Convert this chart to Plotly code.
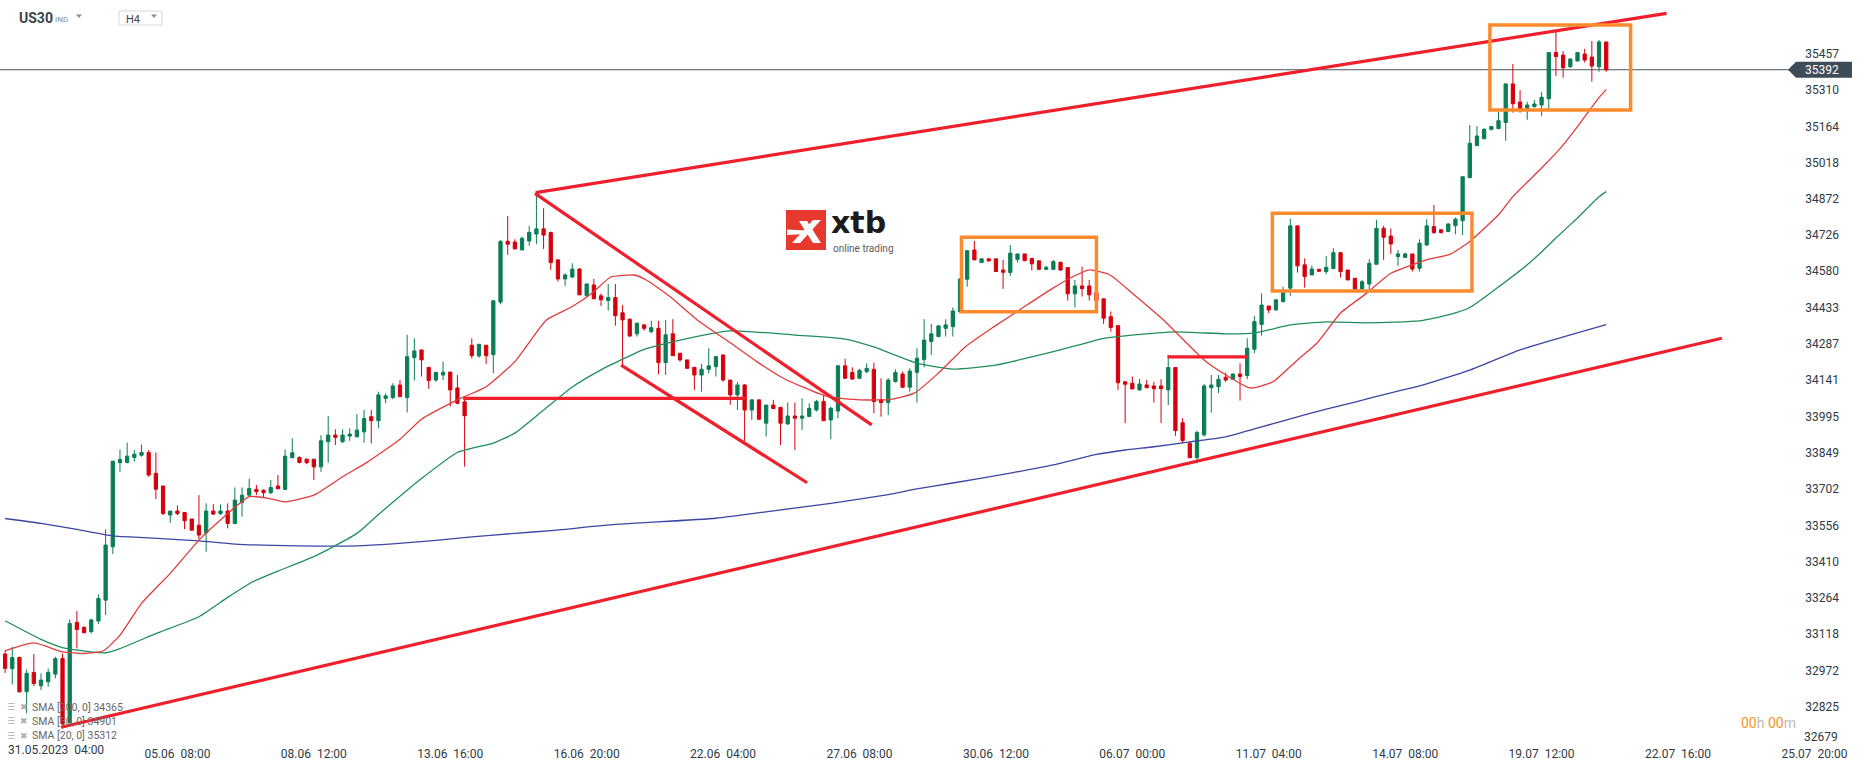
import plotly.graph_objects as go

# ---------------- data ----------------
# H4 bars; bar index 0 = 31.05.2023 04:00
first_bar = -5
opens = [33038, 32979, 33024, 32886, 32964, 32910, 32926, 32957, 33020, 32761,
         33165, 33145, 33128, 33171, 33255, 33470, 33809, 33810, 33830, 33839,
         33850, 33766, 33715, 33598, 33614, 33608, 33582, 33557, 33526, 33614,
         33604, 33614, 33564, 33648, 33678, 33701, 33698, 33688, 33715, 33701,
         33829, 33830, 33823, 33823, 33792, 33893, 33920, 33893, 33916, 33913,
         33933, 33994, 33978, 34068, 34071, 34122, 34071, 34232, 34263, 34193,
         34142, 34162, 34174, 34110, 34054, 34282, 34239, 34282, 34244, 34456,
         34701, 34698, 34666, 34702, 34730, 34751, 34736, 34626, 34549, 34557,
         34589, 34482, 34525, 34481, 34462, 34474, 34413, 34387, 34328, 34364,
         34337, 34350, 34212, 34328, 34250, 34223, 34193, 34162, 34185, 34196,
         34243, 34142, 34082, 34122, 34021, 34062, 33968, 34041, 34032, 33965,
         33997, 33988, 33995, 34021, 34055, 33981, 34017, 34199, 34172, 34149,
         34176, 34185, 34062, 34051, 34136, 34166, 34113, 34173, 34225, 34297,
         34317, 34350, 34357, 34418, 34548, 34666, 34615, 34630, 34630, 34585,
         34575, 34628, 34650, 34632, 34622, 34588, 34588, 34616, 34595, 34489,
         34521, 34521, 34494, 34469, 34397, 34361, 34135, 34129, 34102, 34122,
         34118, 34118, 34102, 34192, 33970, 33887, 33829, 33921, 34111, 34115,
         34153, 34145, 34166, 34160, 34266, 34366, 34440, 34424, 34458, 34512,
         34763, 34606, 34565, 34588, 34579, 34591, 34655, 34585, 34552, 34509,
         34529, 34608, 34753, 34722, 34639, 34636, 34650, 34592, 34686, 34760,
         34747, 34740, 34764, 34784, 34957, 35086, 35114, 35152, 35155, 35179,
         35335, 35262, 35235, 35243, 35250, 35275, 35461, 35451, 35404, 35427,
         35455, 35443, 35404, 35504]
highs = [33051, 33067, 33027, 32976, 33038, 32960, 32980, 33027, 33040, 33177,
         33211, 33150, 33181, 33278, 33541, 33815, 33862, 33890, 33860, 33882,
         33860, 33850, 33715, 33614, 33637, 33608, 33582, 33678, 33645, 33642,
         33641, 33645, 33709, 33709, 33745, 33719, 33701, 33739, 33759, 33862,
         33907, 33835, 33826, 33823, 33920, 33997, 33943, 33943, 33947, 34005,
         34021, 34021, 34095, 34088, 34129, 34142, 34324, 34310, 34263, 34193,
         34176, 34216, 34174, 34162, 34066, 34310, 34286, 34282, 34465, 34706,
         34803, 34709, 34720, 34763, 34888, 34834, 34740, 34626, 34572, 34612,
         34592, 34529, 34550, 34491, 34529, 34529, 34444, 34390, 34373, 34368,
         34381, 34380, 34384, 34387, 34250, 34223, 34193, 34207, 34270, 34240,
         34243, 34142, 34135, 34126, 34062, 34062, 34041, 34062, 34032, 34051,
         34051, 34068, 34048, 34062, 34082, 34035, 34203, 34227, 34193, 34187,
         34209, 34212, 34149, 34149, 34185, 34176, 34189, 34270, 34387, 34368,
         34364, 34387, 34434, 34552, 34666, 34702, 34630, 34632, 34630, 34626,
         34686, 34650, 34650, 34632, 34622, 34602, 34626, 34619, 34595, 34545,
         34599, 34545, 34494, 34469, 34418, 34361, 34135, 34156, 34146, 34142,
         34135, 34145, 34243, 34192, 33988, 33894, 33938, 34126, 34162, 34162,
         34172, 34169, 34209, 34310, 34400, 34491, 34440, 34467, 34518, 34791,
         34763, 34632, 34603, 34590, 34642, 34673, 34655, 34585, 34552, 34545,
         34628, 34787, 34763, 34753, 34666, 34655, 34650, 34709, 34790, 34847,
         34750, 34771, 34796, 34961, 35169, 35165, 35156, 35165, 35223, 35337,
         35415, 35310, 35263, 35270, 35302, 35461, 35549, 35467, 35438, 35461,
         35476, 35508, 35512, 35504]
lows = [32962, 32915, 32882, 32799, 32909, 32893, 32906, 32940, 32738, 32761,
        33061, 33121, 33121, 33159, 33195, 33441, 33772, 33806, 33813, 33833,
        33752, 33662, 33598, 33567, 33598, 33541, 33535, 33500, 33450, 33598,
        33598, 33544, 33561, 33591, 33672, 33678, 33669, 33682, 33701, 33701,
        33827, 33806, 33803, 33739, 33772, 33809, 33880, 33889, 33897, 33911,
        33889, 33886, 33947, 34048, 34064, 34075, 34011, 34140, 34156, 34106,
        34135, 34142, 34035, 34044, 33793, 34229, 34232, 34207, 34169, 34447,
        34646, 34670, 34666, 34683, 34690, 34670, 34585, 34538, 34521, 34552,
        34485, 34478, 34469, 34440, 34422, 34361, 34196, 34316, 34317, 34341,
        34330, 34165, 34162, 34240, 34216, 34187, 34102, 34095, 34169, 34156,
        34135, 34042, 34021, 33896, 33981, 33981, 33914, 34024, 33880, 33961,
        33860, 33941, 33995, 34015, 33978, 33903, 33988, 34146, 34142, 34146,
        34169, 34008, 33994, 34001, 34131, 34109, 34095, 34051, 34193, 34243,
        34314, 34317, 34317, 34410, 34518, 34626, 34615, 34618, 34579, 34509,
        34561, 34615, 34620, 34583, 34585, 34585, 34585, 34582, 34462, 34434,
        34478, 34462, 34455, 34368, 34337, 34102, 33968, 34106, 34099, 34109,
        34051, 33968, 34041, 33917, 33887, 33827, 33806, 33914, 34011, 34089,
        34135, 34142, 34059, 34145, 34250, 34321, 34411, 34424, 34454, 34481,
        34575, 34514, 34565, 34578, 34568, 34588, 34555, 34545, 34505, 34509,
        34505, 34608, 34626, 34650, 34602, 34636, 34579, 34579, 34682, 34730,
        34732, 34740, 34729, 34726, 34957, 35086, 35112, 35147, 35152, 35106,
        35219, 35219, 35190, 35241, 35206, 35233, 35367, 35360, 35400, 35427,
        35421, 35344, 35384, 35384]
closes = [32980, 33024, 32886, 32960, 32919, 32933, 32964, 33019, 32758, 33161,
          33137, 33124, 33175, 33262, 33477, 33815, 33822, 33835, 33843, 33850,
          33759, 33702, 33604, 33614, 33604, 33575, 33537, 33517, 33614, 33602,
          33614, 33564, 33658, 33678, 33705, 33692, 33688, 33709, 33704, 33835,
          33849, 33810, 33809, 33792, 33897, 33920, 33911, 33920, 33924, 33940,
          33987, 33978, 34082, 34078, 34118, 34075, 34236, 34259, 34223, 34140,
          34172, 34173, 34102, 34048, 33998, 34240, 34286, 34240, 34461, 34700,
          34689, 34670, 34713, 34737, 34751, 34726, 34615, 34549, 34565, 34589,
          34485, 34529, 34469, 34465, 34474, 34401, 34384, 34319, 34371, 34350,
          34353, 34212, 34324, 34240, 34223, 34189, 34162, 34185, 34199, 34236,
          34142, 34082, 34122, 34021, 34062, 33984, 34041, 34027, 33968, 33997,
          33988, 33997, 34028, 34055, 33978, 34028, 34199, 34149, 34146, 34180,
          34189, 34055, 34051, 34142, 34172, 34113, 34178, 34230, 34303, 34328,
          34360, 34364, 34420, 34549, 34663, 34626, 34630, 34622, 34579, 34576,
          34653, 34650, 34623, 34610, 34588, 34596, 34619, 34585, 34489, 34521,
          34510, 34485, 34462, 34391, 34354, 34131, 34125, 34106, 34126, 34111,
          34107, 34107, 34192, 33938, 33898, 33829, 33930, 34118, 34122, 34145,
          34142, 34166, 34156, 34270, 34377, 34444, 34424, 34465, 34494, 34763,
          34602, 34559, 34589, 34580, 34596, 34655, 34579, 34545, 34509, 34538,
          34612, 34753, 34717, 34690, 34650, 34650, 34589, 34693, 34763, 34736,
          34736, 34771, 34790, 34961, 35096, 35125, 35152, 35163, 35187, 35335,
          35255, 35235, 35250, 35254, 35281, 35461, 35445, 35400, 35435, 35461,
          35431, 35407, 35504, 35392]
bar_index = list(range(first_bar, first_bar + len(opens)))

tick_bars = [0, 19, 38, 57, 76, 95, 114, 133, 152, 171, 190, 209, 228, 247]
tick_dates = ["31.05.2023", "05.06", "08.06", "13.06", "16.06", "22.06", "27.06",
              "30.06", "06.07", "11.07", "14.07", "19.07", "22.07", "25.07"]
tick_times = ["04:00", "08:00", "12:00", "16:00", "20:00", "04:00", "08:00",
              "12:00", "00:00", "04:00", "08:00", "12:00", "16:00", "20:00"]

price_ticks = [35457, 35310, 35164, 35018, 34872, 34726, 34580, 34433, 34287, 34141,
               33995, 33849, 33702, 33556, 33410, 33264, 33118, 32972, 32825]
bottom_price_label = 32679
last_price = 35392

sma200_bars = [-5, 0, 5, 10, 15, 22, 27, 36, 44, 49, 55, 60, 66, 71, 80, 94, 102, 110,
               118, 122, 127, 135, 141, 147, 151, 155, 160, 165, 169, 174, 179, 183,
               188, 192, 199, 206, 218]
sma200_vals = [33584, 33564, 33540, 33514, 33506, 33494, 33481, 33474, 33474, 33482,
               33496, 33510, 33524, 33535, 33560, 33585, 33615, 33645, 33680, 33703,
               33727, 33767, 33800, 33842, 33860, 33873, 33893, 33913, 33945, 33985,
               34025, 34053, 34090, 34118, 34182, 34263, 34365]
sma50_bars = [-5, 0, 3, 7, 9, 11, 16, 22, 26, 29.5, 33, 38, 44, 47, 53, 58, 63, 66, 70,
              74, 78, 82, 84, 89, 96, 105, 112, 116, 122, 127, 133, 138, 144, 148, 151,
              158, 165, 169, 174, 179, 185, 192, 196, 199, 203, 207, 209, 211, 214,
              217, 218]
sma50_vals = [33172, 33097, 33064, 33047, 33043, 33060, 33120, 33188, 33266, 33329,
              33372, 33430, 33524, 33600, 33745, 33850, 33888, 33928, 34021, 34114,
              34183, 34239, 34265, 34303, 34340, 34323, 34307, 34275, 34210, 34186,
              34202, 34235, 34279, 34310, 34320, 34336, 34328, 34331, 34364, 34376,
              34372, 34380, 34404, 34434, 34517, 34606, 34658, 34714, 34795, 34880,
              34901]
sma20_bars = [-5, -1, 3, 6, 8.7, 11, 14, 18, 22, 25, 29, 31.7, 34, 38, 42, 45.4, 50,
              53, 58, 62, 66, 70.4, 74, 77, 79.3, 82.6, 84.3, 87.6, 91.4, 96.4, 99.7,
              103, 106.3, 109.6, 114, 118.4, 121.7, 125, 128.8, 132.7, 137.1, 141,
              143.7, 146, 148.9, 152, 156.8, 159.6, 162, 164.6, 168.4, 171.6, 175,
              177.7, 181, 184.6, 188, 193, 196.2, 199, 203.2, 205, 209.2, 211.6, 214,
              217.1, 218]
sma20_vals = [33051, 33083, 33047, 33040, 33051, 33114, 33242, 33363, 33497, 33578,
              33672, 33665, 33651, 33678, 33752, 33810, 33903, 33984, 34062, 34115,
              34216, 34384, 34438, 34498, 34556, 34565, 34545, 34478, 34384, 34284,
              34216, 34155, 34111, 34075, 34062, 34064, 34090, 34170, 34277, 34356,
              34440, 34513, 34558, 34586, 34565, 34491, 34371, 34290, 34223, 34170,
              34110, 34135, 34223, 34290, 34412, 34491, 34572, 34626, 34648, 34700,
              34814, 34881, 35002, 35075, 35163, 35284, 35312]

# drawn analysis (bar index, price)
trend_lines = [((68.9, 34897), (226.4, 35619)),
               ((2.8, 32743), (234.1, 34310)),
               ((68.8, 34894), (115.7, 33961)),
               ((80.8, 34202), (106.7, 33728)),
               ((58.8, 34068), (98.1, 34068)),
               ((156.9, 34235), (168.1, 34235))]
boxes = [((128.2, 34417), (147.0, 34717)),
         ((171.5, 34501), (199.3, 34814)),
         ((201.8, 35230), (221.4, 35572))]

sma_legend = [("SMA [200, 0]", 34365), ("SMA [50, 0]", 34901), ("SMA [20, 0]", 35312)]

# ---------------- layout geometry ----------------
W, H = 1866, 767
ML, MR, MT, MB = 0, 24, 0, 22
PW, PH = W - ML - MR, H - MT - MB
X_RANGE = [-5.71, 250.84]
Y_RANGE = [32671.4, 35673.0]

GREEN = "#0b7d55"
RED = "#d6000d"
TXT = "#2f3a44"
FONT = "Roboto"


def fx(p):
    return p / PW


def fy(p):
    return 1 - p / PH


def ppath(points):
    s = "M " + " L ".join(f"{fx(x):.5f},{fy(y):.5f}" for x, y in points) + " Z"
    return s


fig = go.Figure()

fig.add_trace(go.Scatter(x=sma200_bars, y=sma200_vals, mode="lines",
                         line=dict(color="#3b45a3", width=1.3, shape="spline", smoothing=0.5),
                         hoverinfo="skip", showlegend=False))
fig.add_trace(go.Scatter(x=sma50_bars, y=sma50_vals, mode="lines",
                         line=dict(color="#1f8d5e", width=1.3, shape="spline", smoothing=0.5),
                         hoverinfo="skip", showlegend=False))
fig.add_trace(go.Scatter(x=sma20_bars, y=sma20_vals, mode="lines",
                         line=dict(color="#e23b3b", width=1.3, shape="spline", smoothing=0.5),
                         hoverinfo="skip", showlegend=False))

fig.add_trace(go.Candlestick(
    x=bar_index, open=opens, high=highs, low=lows, close=closes,
    increasing=dict(line=dict(color=GREEN, width=1), fillcolor=GREEN),
    decreasing=dict(line=dict(color=RED, width=1), fillcolor=RED),
    showlegend=False, hoverinfo="skip"))

shapes = []
# last price line + tag
shapes.append(dict(type="line", xref="paper", yref="y", x0=0, x1=fx(1790),
                   y0=last_price, y1=last_price, line=dict(color="#4a5661", width=1),
                   layer="below"))
half = (Y_RANGE[1] - Y_RANGE[0]) / PH * 8
tag = (f"M {fx(1788):.5f},{last_price} L {fx(1796):.5f},{last_price + half} "
       f"L {fx(1852):.5f},{last_price + half} L {fx(1852):.5f},{last_price - half} "
       f"L {fx(1796):.5f},{last_price - half} Z")
shapes.append(dict(type="path", xref="paper", yref="y", path=tag,
                   fillcolor="#3e4c58", line=dict(width=0)))

for (x0, y0), (x1, y1) in trend_lines:
    shapes.append(dict(type="line", xref="x", yref="y", x0=x0, y0=y0, x1=x1, y1=y1,
                       line=dict(color="#ef1f2b", width=3.2)))
for (x0, y0), (x1, y1) in boxes:
    shapes.append(dict(type="rect", xref="x", yref="y", x0=x0, y0=y0, x1=x1, y1=y1,
                       line=dict(color="#fd8a2c", width=3.5), fillcolor="rgba(0,0,0,0)"))

# header widgets
shapes.append(dict(type="path", xref="paper", yref="paper",
                   path=ppath([(76, 14.5), (82, 14.5), (79, 18)]),
                   fillcolor="#8a8f94", line=dict(width=0)))
shapes.append(dict(type="rect", xref="paper", yref="paper", x0=fx(119), x1=fx(162),
                   y0=fy(25), y1=fy(11), line=dict(color="#d5d8db", width=1),
                   fillcolor="white"))
shapes.append(dict(type="path", xref="paper", yref="paper",
                   path=ppath([(151, 14.5), (157, 14.5), (154, 18)]),
                   fillcolor="#8a8f94", line=dict(width=0)))

# xtb logo
shapes.append(dict(type="rect", xref="paper", yref="paper", x0=fx(786), x1=fx(826),
                   y0=fy(250), y1=fy(210), fillcolor="#e8392e", line=dict(width=0)))
for poly in ([(813, 220), (821, 220), (800, 243), (792, 243)],
             [(799, 221), (807, 221), (821, 243), (813, 243)],
             [(787, 229.5), (806, 230.5), (806, 234), (787, 235)]):
    shapes.append(dict(type="path", xref="paper", yref="paper", path=ppath(poly),
                       fillcolor="white", line=dict(width=0)))

annotations = []
annotations.append(dict(xref="paper", yref="paper", x=fx(17), y=fy(18.5),
                        text="<b>US30</b>", showarrow=False, xanchor="left",
                        yanchor="middle", font=dict(family=FONT, size=14, color="#37434d")))
annotations.append(dict(xref="paper", yref="paper", x=fx(53), y=fy(19.5),
                        text="IND", showarrow=False, xanchor="left", yanchor="middle",
                        font=dict(family=FONT, size=8, color="#8a8a8a")))
annotations.append(dict(xref="paper", yref="paper", x=fx(124), y=fy(19.5),
                        text="H4", showarrow=False, xanchor="left", yanchor="middle",
                        font=dict(family=FONT, size=11, color="#444")))
annotations.append(dict(xref="paper", yref="paper", x=fx(830), y=fy(241),
                        text="<b>xtb</b>", showarrow=False, xanchor="left",
                        yanchor="bottom", borderpad=0,
                        font=dict(family="DejaVu Sans", size=30, color="#1b1b1b")))
annotations.append(dict(xref="paper", yref="paper", x=fx(832), y=fy(241.5),
                        text="online trading", showarrow=False, xanchor="left",
                        yanchor="top", borderpad=0,
                        font=dict(family=FONT, size=10, color="#5a5a5a")))
annotations.append(dict(xref="paper", yref="y", x=fx(1822), y=last_price,
                        text=str(last_price), showarrow=False, xanchor="center",
                        yanchor="middle", font=dict(family=FONT, size=12, color="white")))
# lowest price label (squeezed above the date axis, as in the reference)
annotations.append(dict(xref="paper", yref="paper", x=fx(1840), y=fy(737),
                        text=str(bottom_price_label), showarrow=False, xanchor="right",
                        yanchor="middle", font=dict(family=FONT, size=12, color=TXT)))
# SMA legend
for i, (name, val) in enumerate(sma_legend):
    yy = fy(707 + i * 14.3)
    annotations.append(dict(xref="paper", yref="paper", x=fx(5), y=yy, text="☰",
                            showarrow=False, xanchor="left", yanchor="middle",
                            font=dict(family="DejaVu Sans", size=9, color="#a9adb1")))
    annotations.append(dict(xref="paper", yref="paper", x=fx(18), y=yy, text="✖",
                            showarrow=False, xanchor="left", yanchor="middle",
                            font=dict(family="DejaVu Sans", size=9, color="#a9adb1")))
    annotations.append(dict(xref="paper", yref="paper", x=fx(30), y=yy,
                            text=f"{name} {val}", showarrow=False, xanchor="left",
                            yanchor="middle", font=dict(family=FONT, size=10.5, color="#666")))
# countdown
annotations.append(dict(xref="paper", yref="paper", x=fx(1739), y=fy(723),
                        text=("<span style='color:#f7941d'>00</span>"
                              "<span style='color:#bdbdbd'>h </span>"
                              "<span style='color:#f7941d'>00</span>"
                              "<span style='color:#bdbdbd'>m</span>"),
                        showarrow=False, xanchor="left", yanchor="middle",
                        font=dict(family=FONT, size=14)))
# first date label (left aligned, as in the reference)
NB = "\u00a0\u00a0"
annotations.append(dict(xref="paper", yref="paper", x=fx(6), y=fy(750),
                        text=tick_dates[0] + NB + tick_times[0], showarrow=False,
                        xanchor="left", yanchor="middle",
                        font=dict(family=FONT, size=12, color=TXT)))

tick_text = [""] + [d + NB + t for d, t in zip(tick_dates[1:], tick_times[1:])]

fig.update_layout(
    width=W, height=H,
    margin=dict(l=ML, r=MR, t=MT, b=MB, pad=0),
    paper_bgcolor="white", plot_bgcolor="white",
    showlegend=False, hovermode=False, boxgap=0.35,
    shapes=shapes, annotations=annotations,
    xaxis=dict(range=X_RANGE, tickmode="array", tickvals=tick_bars, ticktext=tick_text,
               showgrid=False, zeroline=False, showline=False, ticks="",
               ticklabeloverflow="allow",
               tickfont=dict(family=FONT, size=12, color=TXT),
               rangeslider=dict(visible=False), fixedrange=True),
    yaxis=dict(range=Y_RANGE, side="right", tickmode="array", tickvals=price_ticks,
               ticktext=[str(v) for v in price_ticks], ticklabelposition="inside",
               ticklabeloverflow="allow",
               showgrid=False, zeroline=False, showline=False, ticks="",
               tickfont=dict(family=FONT, size=12, color=TXT), fixedrange=True),
)

fig.write_html("out.html", config={"displayModeBar": False},
               post_script="document.body.style.margin='0';document.body.style.overflow='hidden';")
